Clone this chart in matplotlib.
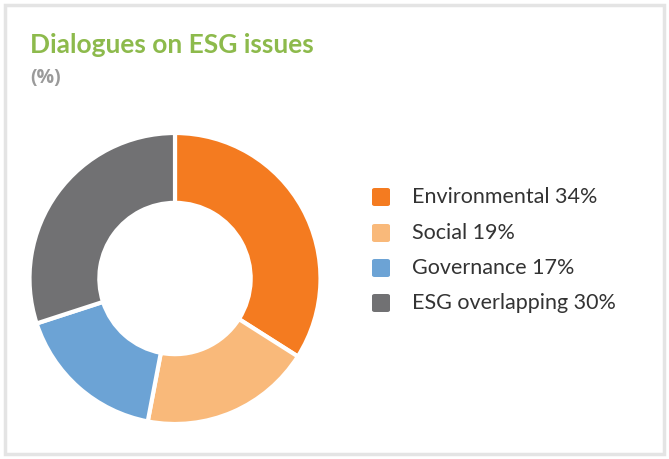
import matplotlib
matplotlib.use("Agg")
import matplotlib.pyplot as plt
from matplotlib.patches import Rectangle, FancyBboxPatch

categories = ["Environmental", "Social", "Governance", "ESG overlapping"]
values = [34, 19, 17, 30]
colors = ["#f47b20", "#f9b97a", "#6ca3d5", "#717173"]
title = "Dialogues on ESG issues"
subtitle = "(%)"

W, H = 669, 459
fig = plt.figure(figsize=(W / 100, H / 100), dpi=100)
fig.patch.set_facecolor("white")

# border box
fig.patches.append(Rectangle((5 / W, 5 / H), (W - 10) / W, (H - 10) / H,
                             transform=fig.transFigure, fill=False,
                             edgecolor="#e4e4e4", linewidth=2.5))

cx, cy, r = 175, 278.5, 145.5
ax = fig.add_axes([(cx - r) / W, (H - cy - r) / H, 2 * r / W, 2 * r / H])
ax.pie(values, colors=colors, startangle=90, counterclock=False, radius=1,
       wedgeprops=dict(width=0.48, edgecolor="white", linewidth=3))
ax.set_xlim(-1, 1)
ax.set_ylim(-1, 1)
ax.set_aspect("equal")
ax.axis("off")

fig.text(30 / W, 1 - 53 / H, title, color="#8dba4c", fontsize=19,
         fontweight="bold", family="Lato", va="baseline")
fig.text(30 / W, 1 - 83 / H, subtitle, color="#9a9a9a", fontsize=14,
         fontweight="bold", family="Open Sans", va="baseline")

ys = [197, 233, 268, 303]
for cat, val, col, y in zip(categories, values, colors, ys):
    fig.patches.append(FancyBboxPatch(((372) / W, 1 - (y + 9) / H), 18 / W, 18 / H,
                                      boxstyle="round,pad=0,rounding_size=0.004",
                                      transform=fig.transFigure,
                                      facecolor=col, edgecolor="none"))
    fig.text(412 / W, 1 - y / H, f"{cat} {val}%", color="#333333",
             fontsize=15.5, family="Lato", va="center")

fig.savefig("out.png", dpi=100, facecolor="white")
